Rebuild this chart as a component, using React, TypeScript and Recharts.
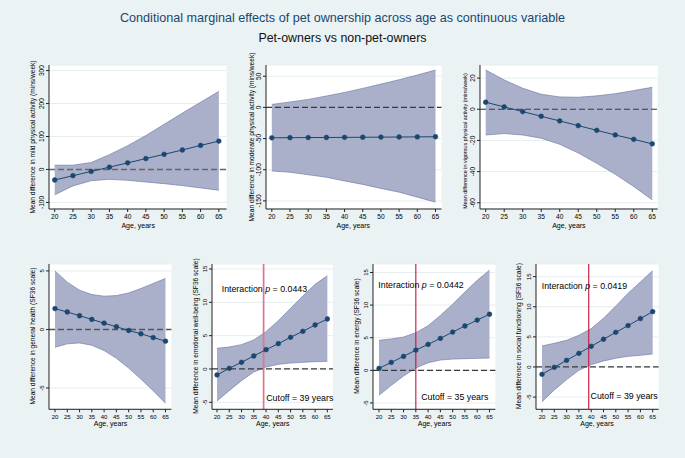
import { ComposedChart, Area, Line, XAxis, YAxis, CartesianGrid, ReferenceLine } from 'recharts';

const ages = [20, 25, 30, 35, 40, 45, 50, 55, 60, 65];

// mild physical activity (mins/week)
const mildMean = [-32, -19, -6, 7, 20, 33, 46, 59, 73, 86];
const mildLow = [-77, -50, -34, -30, -33, -38, -43, -49, -56, -63];
const mildHigh = [13, 13, 21, 45, 72, 103, 137, 171, 204, 237];
const mildTicks = [-100, 0, 100, 200, 300];

// moderate physical activity (mins/week)
const modMean = [-48.8, -48.6, -48.4, -48.3, -48.1, -47.9, -47.7, -47.5, -47.3, -47.1];
const modLow = [-102, -104, -108, -112, -118, -123.5, -130, -136, -144, -152];
const modHigh = [4.8, 8.6, 12.8, 18.2, 24, 30.5, 37.4, 44.4, 51.9, 59.9];
const modTicks = [-150, -100, -50, 0, 50];

// vigorous physical activity (mins/week)
const vigMean = [4.5, 1.5, -1.5, -4.5, -7.5, -10.5, -13.5, -16.5, -19.3, -22.2];
const vigLow = [-16.5, -15.6, -16.5, -18.6, -22.5, -28, -34.7, -41.7, -49.6, -58.2];
const vigHigh = [25.2, 18.8, 13.5, 9.6, 7.9, 7.7, 8.6, 10, 12, 14.1];
const vigTicks = [-60, -40, -20, 0, 20];

// SF36 general health
const ghMean = [1.78, 1.49, 1.17, 0.86, 0.54, 0.23, -0.09, -0.37, -0.69, -1.0];
const ghLow = [-1.52, -1.23, -1.15, -1.35, -1.8, -2.46, -3.3, -4.24, -5.24, -6.3];
const ghHigh = [5.0, 4.04, 3.35, 2.98, 2.84, 2.89, 3.12, 3.5, 3.93, 4.36];
const ghTicks = [-5, 0, 5];

// SF36 emotional well-being
const ewbMean = [-0.9, 0.1, 1.0, 1.95, 2.9, 3.8, 4.75, 5.65, 6.6, 7.5];
const ewbLow = [-4.8, -3.25, -1.75, -0.45, 0.3, 0.7, 0.9, 1.0, 1.1, 1.15];
const ewbHigh = [3.1, 3.3, 3.65, 4.35, 5.6, 7.25, 9.1, 10.95, 12.7, 14.0];

// SF36 energy
const enMean = [0.3, 1.22, 2.14, 3.1, 3.98, 4.9, 5.87, 6.8, 7.7, 8.6];
const enLow = [-3.83, -2.3, -0.87, 0.36, 1.17, 1.58, 1.73, 1.79, 1.84, 1.89];
const enHigh = [4.6, 4.8, 5.1, 5.77, 6.84, 8.42, 10.15, 12.0, 13.8, 15.36];

// SF36 social functioning
const sfMean = [-1.22, -0.06, 1.1, 2.27, 3.43, 4.6, 5.76, 6.87, 8.03, 9.19];
const sfLow = [-5.76, -3.82, -2.1, -0.55, 0.39, 1.0, 1.44, 1.77, 1.94, 2.16];
const sfHigh = [3.49, 3.93, 4.43, 5.26, 6.37, 8.08, 10.13, 12.24, 14.12, 16.0];
const sfTicks = [-5, 0, 5, 10, 15];

const FONT = '"Liberation Sans", Arial, sans-serif';
const NAVY = '#1a476f';

const YTick = (props: any) => {
  const { x, y, payload, fs } = props;
  return (
    <text x={x} y={y} transform={`rotate(-90 ${x} ${y})`} textAnchor="middle" fontSize={fs} fill="#000" fontFamily={FONT}>
      {payload.value}
    </text>
  );
};

type PanelProps = {
  left: number; top: number; w: number; h: number;
  xDomain: [number, number]; yDomain: [number, number]; yTicks: number[];
  mean: number[]; low: number[]; high: number[];
  fs: number; zeroColor?: string; zeroWidth?: number;
  cutoff?: number; cutoffColor?: string; cutoffWidth?: number;
};

const Panel = (p: PanelProps) => {
  const data = ages.map((age, i) => ({ age, mean: p.mean[i], ci: [p.low[i], p.high[i]] }));
  return (
    <div style={{ position: 'absolute', left: p.left - 40, top: p.top - 5 }}>
      <ComposedChart width={p.w + 45} height={p.h + 30} data={data} margin={{ top: 5, right: 5, bottom: 5, left: 10 }}>
        <CartesianGrid vertical={false} fill="#fff" stroke="#e6eef0" />
        <XAxis
          type="number" dataKey="age" domain={p.xDomain} ticks={ages} allowDataOverflow interval={0}
          height={20} tickSize={3} stroke="#222" tick={{ fontSize: p.fs, fill: '#000', fontFamily: FONT }}
        />
        <YAxis
          type="number" domain={p.yDomain} ticks={p.yTicks} allowDataOverflow interval={0}
          width={30} tickSize={3} stroke="#222" tick={<YTick fs={p.fs} />}
        />
        <Area
          type="linear" dataKey="ci" fill="#abb0ca" fillOpacity={1} stroke="#7680a9" strokeWidth={0.7}
          dot={false} activeDot={false} isAnimationActive={false}
        />
        <ReferenceLine y={0} stroke={p.zeroColor ?? '#3a3a3a'} strokeWidth={p.zeroWidth ?? 1.2} strokeDasharray="6 3" />
        {p.cutoff !== undefined && (
          <ReferenceLine x={p.cutoff} stroke={p.cutoffColor} strokeWidth={p.cutoffWidth} />
        )}
        <Line
          type="linear" dataKey="mean" stroke={NAVY} strokeWidth={1}
          dot={{ r: 2.4, fill: NAVY, stroke: NAVY, strokeWidth: 0.5 }} activeDot={false} isAnimationActive={false}
        />
      </ComposedChart>
    </div>
  );
};

const yTitles = [
  { x: 32.3, y: 137, fs: 6.6, t: 'Mean difference in mild physical activity (mins/week)' },
  { x: 251, y: 137, fs: 6.6, t: 'Mean difference in moderate physical activity (mins/week)' },
  { x: 465, y: 141, fs: 5.4, t: 'Mean difference in vigorous physical activity (mins/week)' },
  { x: 32, y: 336, fs: 6.6, t: 'Mean difference in general health (SF36 scale)' },
  { x: 195.5, y: 336, fs: 6.6, t: 'Mean difference in emotional well-being (SF36 scale)' },
  { x: 356, y: 336, fs: 6.6, t: 'Mean difference in energy (SF36 scale)' },
  { x: 518, y: 336, fs: 6.6, t: 'Mean difference in social functioning (SF36 scale)' },
];

const xTitles = [
  { x: 138.2, y: 227.5 }, { x: 353.3, y: 227.5 }, { x: 568.9, y: 227.5 },
  { x: 110.5, y: 426 }, { x: 272.8, y: 426 }, { x: 434.5, y: 426 }, { x: 597, y: 426 },
];

const notes = [
  { ix: 221.7, iy: 292, p: '0.0443', cx: 333.3, cy: 400.5, cut: 39 },
  { ix: 378.3, iy: 288, p: '0.0442', cx: 488.3, cy: 400, cut: 35 },
  { ix: 541.7, iy: 288.7, p: '0.0419', cx: 657.7, cy: 399, cut: 39 },
];

export default function App() {
  return (
    <div style={{ position: 'absolute', left: 0, top: 0, width: 685, height: 458, background: '#eaf2f3', fontFamily: FONT, overflow: 'hidden' }}>
      <Panel left={49.3} top={65} w={177.5} h={144} xDomain={[18.44, 67.1]} yDomain={[-120, 317]} yTicks={mildTicks}
        mean={mildMean} low={mildLow} high={mildHigh} fs={6.6} zeroColor="#666" zeroWidth={1.6} />
      <Panel left={265.5} top={65} w={175.5} h={144} xDomain={[18.4, 66.65]} yDomain={[-163, 68]} yTicks={modTicks}
        mean={modMean} low={modLow} high={modHigh} fs={6.6} />
      <Panel left={480} top={65} w={177.7} h={144} xDomain={[18.46, 66.46]} yDomain={[-64, 28.4]} yTicks={vigTicks}
        mean={vigMean} low={vigLow} high={vigHigh} fs={6.6} />
      <Panel left={49.3} top={264} w={122.4} h={145.3} xDomain={[17.56, 67.4]} yDomain={[-6.82, 5.59]} yTicks={ghTicks}
        mean={ghMean} low={ghLow} high={ghHigh} fs={6} zeroColor="#555" zeroWidth={1.5} />
      <Panel left={212.3} top={264} w={121} h={145.3} xDomain={[17.96, 67.3]} yDomain={[-6.05, 15.75]} yTicks={sfTicks}
        mean={ewbMean} low={ewbLow} high={ewbHigh} fs={6} cutoff={39} cutoffColor="#dd7590" cutoffWidth={1.7} />
      <Panel left={373.3} top={264} w={122.4} h={145.3} xDomain={[17.56, 67.4]} yDomain={[-5.97, 16.3]} yTicks={sfTicks}
        mean={enMean} low={enLow} high={enHigh} fs={6} cutoff={35} cutoffColor="#c8103c" cutoffWidth={1.1} />
      <Panel left={535.7} top={264} w={122.6} h={145.3} xDomain={[17.56, 67.4]} yDomain={[-7.03, 17.1]} yTicks={sfTicks}
        mean={sfMean} low={sfLow} high={sfHigh} fs={6} cutoff={39} cutoffColor="#c8103c" cutoffWidth={1.1} />
      <svg width={685} height={458} style={{ position: 'absolute', left: 0, top: 0, pointerEvents: 'none' }} fontFamily={FONT}>
        <text x={342.5} y={21.5} textAnchor="middle" fontSize={12.6} fill={NAVY}>
          Conditional marginal effects of pet ownership across age as continuous variable
        </text>
        <text x={342.5} y={42} textAnchor="middle" fontSize={12.4} fill="#111">
          Pet-owners vs non-pet-owners
        </text>
        {yTitles.map((d) => (
          <text key={d.t} x={d.x} y={d.y} transform={`rotate(-90 ${d.x} ${d.y})`} textAnchor="middle"
            dominantBaseline="central" fontSize={d.fs} fill="#000">{d.t}</text>
        ))}
        {xTitles.map((d, i) => (
          <text key={i} x={d.x} y={d.y} textAnchor="middle" fontSize={7} fill="#000">Age, years</text>
        ))}
        {notes.map((n) => (
          <g key={n.p}>
            <text x={n.ix} y={n.iy} fontSize={8.8} fill="#000">
              Interaction <tspan fontStyle="italic">p</tspan> = {n.p}
            </text>
            <text x={n.cx} y={n.cy} textAnchor="end" fontSize={8.8} fill="#000">
              Cutoff = {n.cut} years
            </text>
          </g>
        ))}
      </svg>
    </div>
  );
}
